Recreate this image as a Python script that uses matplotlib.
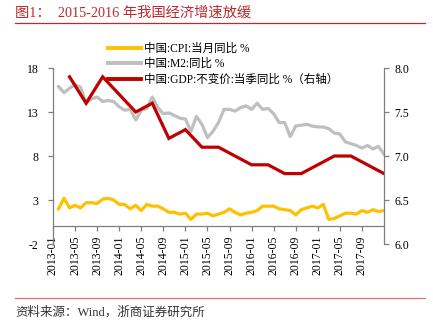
import matplotlib
matplotlib.use('Agg')
import matplotlib.pyplot as plt
from matplotlib.lines import Line2D

plt.rcParams['font.family'] = ['Liberation Serif', 'Noto Sans CJK SC']
plt.rcParams['axes.unicode_minus'] = False

# monthly data, 2013-01 .. 2017-12
cpi = [2.0, 3.2, 2.1, 2.4, 2.1, 2.7, 2.7, 2.6, 3.1, 3.2, 3.0, 2.5,
       2.5, 2.0, 2.4, 1.8, 2.5, 2.3, 2.3, 2.0, 1.6, 1.6, 1.4, 1.5,
       0.8, 1.4, 1.4, 1.5, 1.2, 1.4, 1.6, 2.0, 1.6, 1.3, 1.5, 1.6,
       1.8, 2.3, 2.3, 2.3, 2.0, 1.9, 1.8, 1.3, 1.9, 2.1, 2.3, 2.1,
       2.5, 0.8, 0.9, 1.2, 1.5, 1.5, 1.4, 1.8, 1.6, 1.9, 1.7, 1.8]
m2 = [15.9, 15.2, 15.7, 16.1, 15.8, 14.0, 14.5, 14.7, 14.2, 14.3, 14.2, 13.6,
      13.2, 13.3, 12.1, 13.2, 13.4, 14.7, 13.5, 12.8, 12.9, 12.6, 12.3, 12.2,
      10.8, 12.5, 11.6, 10.1, 10.8, 11.8, 13.3, 13.3, 13.1, 13.5, 13.7, 13.3,
      14.0, 13.3, 13.4, 12.8, 11.8, 11.8, 10.2, 11.4, 11.5, 11.6, 11.4, 11.3,
      11.3, 11.1, 10.6, 10.5, 9.6, 9.4, 9.2, 8.9, 9.2, 8.8, 9.1, 8.2]
# quarterly GDP, 2013Q1 .. 2017Q4 (right axis)
gdp = [7.9, 7.6, 7.9, 7.7, 7.5, 7.6, 7.2, 7.3, 7.1, 7.1, 7.0, 6.9,
       6.9, 6.8, 6.8, 6.9, 7.0, 7.0, 6.9, 6.8]
tick_labels = ['2013-01', '2013-05', '2013-09', '2014-01', '2014-05', '2014-09', '2015-01', '2015-05',
               '2015-09', '2016-01', '2016-05', '2016-09', '2017-01', '2017-05', '2017-09']

# month-end positions (0 = start of 2013-01)
xm = [i + 1 for i in range(len(cpi))]
xq = [3 * (i + 1) for i in range(len(gdp))]

C_CPI = '#FFC000'
C_M2 = '#BFBFBF'
C_GDP = '#C00000'
AX = '#7F7F7F'

fig = plt.figure(figsize=(4.33, 3.30), dpi=100)
ax = fig.add_axes([0.1224, 0.2606, 0.7644, 0.5333])
ax2 = ax.twinx()

ax.plot(xm, cpi, color=C_CPI, lw=2.3, solid_joinstyle='round')
ax.plot(xm, m2, color=C_M2, lw=2.3, solid_joinstyle='round')
ax2.plot(xq, gdp, color=C_GDP, lw=2.3, solid_joinstyle='miter')
ax2.set_zorder(ax.get_zorder() + 1)
ax.patch.set_visible(False)

ax.set_xlim(0, 60)
ax.set_ylim(-2, 18)
ax.set_yticks([-2, 3, 8, 13, 18])
ax2.set_ylim(6.0, 8.0)
ax2.set_yticks([6.0, 6.5, 7.0, 7.5, 8.0])
ax2.set_yticklabels(['6.0', '6.5', '7.0', '7.5', '8.0'])
ax.set_xticks(range(0, 57, 4))
ax.set_xticklabels(tick_labels)

for a in (ax, ax2):
    for s in a.spines.values():
        s.set_color(AX)
        s.set_linewidth(0.9)
    a.spines['top'].set_visible(False)
ax.spines['right'].set_visible(False)
ax2.spines['left'].set_visible(False)
ax2.spines['bottom'].set_visible(False)
ax.spines['bottom'].set_position(('data', 0))
ax.tick_params(axis='both', colors=AX, labelcolor='black', labelsize=8.5, length=3.5, width=0.9, direction='out')
ax.tick_params(axis='y', pad=7)
ax.tick_params(axis='x', pad=3, labelsize=8.5, labelrotation=90)
ax2.tick_params(axis='y', colors=AX, labelcolor='black', labelsize=8.5, length=3.5, width=0.9, direction='out', pad=4)

handles = [Line2D([], [], color=C_CPI, lw=2.8),
           Line2D([], [], color=C_M2, lw=2.8),
           Line2D([], [], color=C_GDP, lw=2.8)]
labels = ['中国:CPI:当月同比 %', '中国:M2:同比 %', '中国:GDP:不变价:当季同比 %（右轴）']
fig.legend(handles, labels, loc='upper left', bbox_to_anchor=(0.235, 0.888), frameon=False,
           fontsize=8.3, handlelength=2.9, handletextpad=0.3, labelspacing=0.3, borderpad=0)

fig.text(0.035, 0.962, '图1：  2015-2016 年我国经济增速放缓', color='#C0282D', fontsize=10.3, va='center', ha='left')
fig.add_artist(Line2D([0.035, 0.982], [0.929, 0.929], color='#C0282D', lw=0.9))
fig.add_artist(Line2D([0.035, 0.982], [0.098, 0.098], color='#E07070', lw=0.9))
fig.text(0.035, 0.053, '资料来源：Wind，浙商证券研究所', color='#333333', fontsize=9, va='center', ha='left')

fig.savefig('out.png', dpi=100)
